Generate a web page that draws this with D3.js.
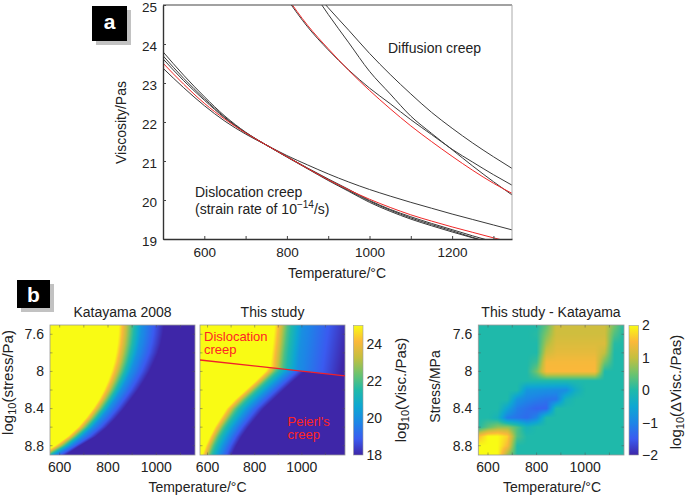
<!DOCTYPE html>
<html>
<head>
<meta charset="utf-8">
<script src="https://cdn.jsdelivr.net/npm/d3@7"></script>
<style>
body { margin: 0; background: #fff; }
svg { display: block; font-family: "Liberation Sans", Arial, Helvetica, sans-serif; }
</style>
</head>
<body>
<svg id="chart" width="685" height="496"></svg>
<script>
// ---------- panel a data: log10 viscosity (Pa s) vs temperature (C) ----------
var diffTemps = [800, 850, 900, 950, 1000, 1050, 1100, 1150, 1200, 1250, 1300, 1345];
var diffRed    = [25.20, 24.48, 23.88, 23.32, 22.81, 22.34, 21.90, 21.50, 21.12, 20.76, 20.43, 20.17];
var diffBlackA = [25.16, 24.44, 23.85, 23.33, 22.87, 22.47, 22.06, 21.68, 21.30, 20.97, 20.65, 20.38];
var diffBlackB = [26.40, 25.55, 24.76, 24.03, 23.30, 22.72, 22.15, 21.71, 21.29, 20.87, 20.47, 20.13];
var diffBlackC = [26.20, 25.55, 24.93, 24.35, 23.76, 23.22, 22.72, 22.25, 21.84, 21.46, 21.11, 20.81];

var disTemps = [500, 550, 600, 650, 700, 750, 800, 850, 900, 950, 1000, 1050, 1100, 1150, 1200, 1250, 1300, 1350];
var disRed    = [23.51, 22.97, 22.48, 22.07, 21.72, 21.41, 21.11, 20.81, 20.52, 20.26, 20.02, 19.81, 19.62, 19.46, 19.31, 19.17, 19.03, 18.90];
var disBlackA = [23.80, 23.20, 22.65, 22.15, 21.74, 21.41, 21.10, 20.80, 20.50, 20.22, 19.94, 19.71, 19.51, 19.34, 19.18, 19.03, 18.88, 18.74];
var disBlackB = [23.70, 23.12, 22.60, 22.12, 21.73, 21.41, 21.11, 20.81, 20.52, 20.24, 19.97, 19.74, 19.54, 19.37, 19.21, 19.04, 18.89, 18.75];
var disBlackC = [23.62, 23.06, 22.56, 22.10, 21.72, 21.41, 21.11, 20.82, 20.54, 20.27, 19.99, 19.76, 19.57, 19.40, 19.24, 19.08, 18.93, 18.79];
var disBlackD = [23.38, 22.88, 22.42, 22.02, 21.69, 21.41, 21.14, 20.90, 20.67, 20.46, 20.27, 20.10, 19.94, 19.79, 19.64, 19.50, 19.36, 19.22];

// ---------- panel b data ----------
// rows of log10(stress); for each row, the temperature where log10(visc) reaches 25, 22, 20, 18
var stressRows = [7.5, 7.6, 7.7, 7.8, 7.9, 8.0, 8.1, 8.2, 8.3, 8.4, 8.5, 8.6, 8.7, 8.8, 8.9];
var viscLevels = [25, 22, 20, 18];

var kataT25 = [845, 843, 839, 833, 825, 814, 800, 783, 763, 738, 709, 676, 634, 581, 520];
var kataT22 = [899, 896, 891, 883, 873, 860, 843, 824, 801, 775, 745, 711, 668, 618, 552];
var kataT20 = [940, 937, 931, 922, 909, 895, 876, 855, 830, 803, 772, 737, 693, 643, 578];
var kataT18 = [1032, 1027, 1019, 1007, 990, 972, 949, 924, 895, 866, 833, 796, 750, 684, 625];

// this study, dislocation creep field (above the red line)
var disT25 = [885, 881, 877, 872, 868, 864, 860, 856, 852, 848, 844, 840, 836, 832, 828];
var disT22 = [940, 936, 932, 927, 923, 919, 915, 911, 907, 903, 899, 895, 891, 887, 883];
var disT20 = [1003, 999, 995, 990, 986, 982, 978, 974, 970, 966, 962, 958, 954, 950, 946];
var disT18 = [1202, 1195, 1188, 1182, 1175, 1168, 1161, 1154, 1147, 1140, 1133, 1126, 1119, 1112, 1105];

// this study, Peierls creep field (below the red line)
var peiT25 = [1000, 960, 925, 895, 868, 845, 805, 762, 718, 680, 655, 630, 610, 592, 578];
var peiT22 = [1054, 1014, 978, 945, 915, 890, 848, 805, 762, 723, 696, 669, 646, 627, 612];
var peiT20 = [1116, 1076, 1038, 1002, 970, 941, 898, 855, 812, 772, 742, 713, 688, 667, 650];
var peiT18 = [1200, 1160, 1120, 1080, 1043, 1010, 965, 922, 880, 838, 805, 773, 745, 722, 703];

// mechanism boundary (red line)
var boundaryT = [568, 1183];
var boundaryS = [7.877, 8.049];

// difference map: rows = stressRows, columns = deltaTemps
var deltaTemps = [560, 600, 640, 680, 720, 760, 800, 840, 880, 920, 960, 1000, 1040, 1080, 1120, 1160];
var deltaGrid = [
  [0, 0, 0, 0, 0, 0, 0, 0.41, 1.1, 1.1, 1.1, 1.1, 1.1, 1.1, 0.55, 0],
  [0, 0, 0, 0, 0, 0, 0.05, 0.61, 1.1, 1.1, 1.1, 1.1, 1.1, 1.1, 0.33, 0],
  [0, 0, 0, 0, 0, 0, 0, 0.84, 1.2, 1.2, 1.2, 1.2, 1.2, 1.2, 0.06, 0],
  [0, 0, 0, 0, 0, 0, 0, 1.1, 1.3, 1.3, 1.3, 1.3, 1.3, 0.98, 0, 0],
  [0, 0, 0, 0, 0, 0, 0.18, 1.45, 1.45, 1.45, 1.45, 1.45, 1.45, 0.53, 0, 0],
  [0, 0, 0, 0, 0, 0, 0.53, 1.5, 1.5, 1.5, 1.5, 1.5, 1.5, 0, 0, 0],
  [0, 0, 0, 0, 0, 0, 0, 0, 0, 0, 0, 0, 0, 0, 0, 0],
  [0, 0, 0, 0, 0, -0.76, -0.8, -0.85, -0.9, -0.9, -0.32, 0, 0, 0, 0, 0],
  [0, 0, 0, 0, -0.8, -1.0, -1.1, -1.2, -1.2, -0.21, 0, 0, 0, 0, 0, 0],
  [0, 0, 0, -0.55, -1.1, -1.25, -1.4, -1.4, 0, 0, 0, 0, 0, 0, 0, 0],
  [0, 0, -0.19, -1.1, -1.2, -1.3, -1.0, 0, 0, 0, 0, 0, 0, 0, 0, 0],
  [0, 0.4, 0.7, 0.7, 0.3, -0.2, 0, 0, 0, 0, 0, 0, 0, 0, 0, 0],
  [1.5, 2, 2, 1.7, 0.3, 0, 0, 0, 0, 0, 0, 0, 0, 0, 0, 0],
  [2, 2, 2, 1.5, 0, 0, 0, 0, 0, 0, 0, 0, 0, 0, 0, 0],
  [2, 2, 2, 0.75, 0, 0, 0, 0, 0, 0, 0, 0, 0, 0, 0, 0]
];

// parula-like colour stops
var parula = ['#3e26a8', '#3a5bf0', '#1d86e6', '#0ea7d2', '#1fb9aa', '#6cc36e', '#c4bf3f', '#fbb83a', '#f9fb14'];

var svg = d3.select('#chart');
var ink = '#222';

function stopsFor(lo, hi) {
    return parula.map((c, i) => lo + i * (hi - lo) / (parula.length - 1));
}
var viscColor = d3.scaleLinear().domain(stopsFor(18, 25)).range(parula).clamp(true);
var deltaColor = d3.scaleLinear().domain(stopsFor(-2, 2)).range(parula).clamp(true);

// panel letter boxes with drop shadow
function panelLabel(x, y, w, h, letter, baseline) {
    svg.append('rect').attr('x', x + 4).attr('y', y + 4).attr('width', w).attr('height', h).attr('fill', '#c2c2c2');
    svg.append('rect').attr('x', x).attr('y', y).attr('width', w).attr('height', h).attr('fill', '#000');
    svg.append('text').attr('x', x + w / 2).attr('y', baseline)
        .attr('text-anchor', 'middle').attr('fill', '#fff')
        .attr('font-weight', 'bold').attr('font-size', 21).text(letter);
}
panelLabel(92, 6, 35, 35, 'a', 29);
panelLabel(17, 280, 33, 28, 'b', 302);

// ================= panel a =================
var xA = d3.scaleLinear().domain([500, 1345]).range([163, 512]);
var yA = d3.scaleLinear().domain([19, 25]).range([239, 5]);

svg.append('clipPath').attr('id', 'clipA')
    .append('rect').attr('x', 163).attr('y', 5).attr('width', 349).attr('height', 234);

var lineA = d3.line()
    .x(d => xA(d[0]))
    .y(d => yA(d[1]))
    .curve(d3.curveMonotoneX);

var curvesA = [
    { t: disTemps, v: disBlackA, c: '#3a3a3a' },
    { t: disTemps, v: disBlackB, c: '#3a3a3a' },
    { t: disTemps, v: disBlackC, c: '#3a3a3a' },
    { t: disTemps, v: disBlackD, c: '#3a3a3a' },
    { t: disTemps, v: disRed, c: '#f02828' },
    { t: diffTemps, v: diffBlackA, c: '#3a3a3a' },
    { t: diffTemps, v: diffBlackB, c: '#3a3a3a' },
    { t: diffTemps, v: diffBlackC, c: '#3a3a3a' },
    { t: diffTemps, v: diffRed, c: '#f02828' }
];

var curveG = svg.append('g').attr('clip-path', 'url(#clipA)');
curveG.selectAll('path')
    .data(curvesA)
    .enter()
    .append('path')
    .attr('d', d => lineA(d.t.map((t, i) => [t, d.v[i]])))
    .attr('fill', 'none')
    .attr('stroke', d => d.c)
    .attr('stroke-width', 1);

// frame: top dark, right light
svg.append('line').attr('x1', 163).attr('x2', 512).attr('y1', 5).attr('y2', 5).attr('stroke', '#444').attr('stroke-width', 1.2);
svg.append('line').attr('x1', 512).attr('x2', 512).attr('y1', 5).attr('y2', 239).attr('stroke', '#aaa').attr('stroke-width', 1);

function styleAxis(g, size) {
    g.attr('font-family', null).attr('font-size', size).attr('color', ink);
    g.select('.domain').attr('stroke', '#333').attr('stroke-width', 1.4);
    g.selectAll('.tick line').attr('stroke', '#444');
}

var yAxisA = d3.axisLeft(yA).ticks(6).tickSizeInner(-3).tickSizeOuter(0).tickPadding(6);
svg.append('g').attr('transform', 'translate(163,0)').call(yAxisA).call(g => styleAxis(g, 13.5))
    .selectAll('.tick text').attr('dy', '0.45em');

var xAxisA = d3.axisBottom(xA)
    .tickValues(d3.range(600, 1301, 100))
    .tickSizeInner(-3).tickSizeOuter(0).tickPadding(8)
    .tickFormat(d => d % 200 === 0 ? d : '');
svg.append('g').attr('transform', 'translate(0,239)').call(xAxisA).call(g => styleAxis(g, 13.5));

svg.append('text')
    .attr('transform', 'translate(126,122.5) rotate(-90)')
    .attr('text-anchor', 'middle').attr('font-size', 14).attr('fill', ink)
    .text('Viscosity/Pas');
svg.append('text')
    .attr('x', 337).attr('y', 278)
    .attr('text-anchor', 'middle').attr('font-size', 14).attr('fill', ink)
    .text('Temperature/°C');
svg.append('text')
    .attr('x', 388).attr('y', 53).attr('font-size', 14).attr('fill', ink)
    .text('Diffusion creep');
svg.append('text')
    .attr('x', 195).attr('y', 196.5).attr('font-size', 14).attr('fill', ink)
    .text('Dislocation creep');
var strain = svg.append('text')
    .attr('x', 195).attr('y', 213.5).attr('font-size', 14).attr('fill', ink);
strain.append('tspan').text('(strain rate of 10');
strain.append('tspan').attr('font-size', 10).attr('dy', -5.5).text('−14');
strain.append('tspan').attr('dy', 5.5).text('/s)');

// ================= panel b =================
var yB = d3.scaleLinear().domain([7.5, 8.9]).range([325, 455]);
var xB1 = d3.scaleLinear().domain([560, 1160]).range([50, 195]);
var xB2 = d3.scaleLinear().domain([568, 1183]).range([200, 345]);
var xB3 = d3.scaleLinear().domain([560, 1160]).range([478.3, 624]);

// value at (T, s) from per-row contour temperatures
function contourField(tables) {
    return function(T, s) {
        var n = stressRows.length;
        var k = Math.max(0, Math.min(n - 2, d3.bisectRight(stressRows, s) - 1));
        var f = Math.max(0, Math.min(1, (s - stressRows[k]) / (stressRows[k + 1] - stressRows[k])));
        var temps = tables.map(arr => arr[k] * (1 - f) + arr[k + 1] * f);
        if (T <= temps[0]) return viscLevels[0];
        for (var i = 1; i < temps.length; i++) {
            if (T <= temps[i]) {
                return viscLevels[i - 1] + (viscLevels[i] - viscLevels[i - 1]) * (T - temps[i - 1]) / (temps[i] - temps[i - 1]);
            }
        }
        return viscLevels[viscLevels.length - 1];
    };
}

var kataField = contourField([kataT25, kataT22, kataT20, kataT18]);
var disField = contourField([disT25, disT22, disT20, disT18]);
var peiField = contourField([peiT25, peiT22, peiT20, peiT18]);
var boundary = d3.scaleLinear().domain(boundaryT).range(boundaryS);

function studyField(T, s) {
    return s < boundary(T) ? disField(T, s) : peiField(T, s);
}

// bilinear lookup in the difference grid
function deltaField(T, s) {
    var nx = deltaTemps.length, ny = stressRows.length;
    var i = Math.max(0, Math.min(nx - 2, d3.bisectRight(deltaTemps, T) - 1));
    var j = Math.max(0, Math.min(ny - 2, d3.bisectRight(stressRows, s) - 1));
    var fx = Math.max(0, Math.min(1, (T - deltaTemps[i]) / (deltaTemps[i + 1] - deltaTemps[i])));
    var fy = Math.max(0, Math.min(1, (s - stressRows[j]) / (stressRows[j + 1] - stressRows[j])));
    var a = deltaGrid[j][i], b = deltaGrid[j][i + 1], c = deltaGrid[j + 1][i], d = deltaGrid[j + 1][i + 1];
    return (a * (1 - fx) + b * fx) * (1 - fy) + (c * (1 - fx) + d * fx) * fy;
}

function drawHeatmap(xs, field, color) {
    var x0 = xs.range()[0], x1 = xs.range()[1];
    var y0 = yB.range()[0], y1 = yB.range()[1];
    var up = 2;
    var w = Math.round((x1 - x0) * up), h = Math.round((y1 - y0) * up);
    var canvas = document.createElement('canvas');
    canvas.width = w; canvas.height = h;
    var ctx = canvas.getContext('2d');
    var img = ctx.createImageData(w, h);
    for (var j = 0; j < h; j++) {
        var s = yB.invert(y0 + (j + 0.5) / up);
        for (var i = 0; i < w; i++) {
            var T = xs.invert(x0 + (i + 0.5) / up);
            var c = d3.rgb(color(field(T, s)));
            var p = (j * w + i) * 4;
            img.data[p] = c.r; img.data[p + 1] = c.g; img.data[p + 2] = c.b; img.data[p + 3] = 255;
        }
    }
    ctx.putImageData(img, 0, 0);
    svg.append('image')
        .attr('x', x0).attr('y', y0)
        .attr('width', x1 - x0).attr('height', y1 - y0)
        .attr('preserveAspectRatio', 'none')
        .attr('href', canvas.toDataURL());
}

function heatFrame(xs, withLabels) {
    var x0 = xs.range()[0], x1 = xs.range()[1];
    var y0 = yB.range()[0], y1 = yB.range()[1];
    var g = svg.append('g');
    g.append('rect').attr('x', x0).attr('y', y0).attr('width', x1 - x0).attr('height', y1 - y0)
        .attr('fill', 'none').attr('stroke', '#9a9a9a').attr('stroke-width', 0.8);
    var xt = d3.range(600, 1101, 100);
    var yt = [7.6, 7.8, 8.0, 8.2, 8.4, 8.6, 8.8];
    g.selectAll('.xt').data(xt).enter().append('path')
        .attr('d', d => `M${xs(d)},${y1}v-2.5M${xs(d)},${y0}v2.5`)
        .attr('stroke', '#555').attr('stroke-width', 0.8).attr('opacity', 0.6);
    g.selectAll('.yt').data(yt).enter().append('path')
        .attr('d', d => `M${x0},${yB(d)}h2.5M${x1},${yB(d)}h-2.5`)
        .attr('stroke', '#555').attr('stroke-width', 0.8).attr('opacity', 0.6);
    g.selectAll('.xl').data([600, 800, 1000]).enter().append('text')
        .attr('x', d => xs(d)).attr('y', 471.5)
        .attr('text-anchor', 'middle').attr('font-size', 14).attr('fill', ink)
        .text(d => d);
    if (withLabels) {
        g.selectAll('.yl').data([7.6, 8, 8.4, 8.8]).enter().append('text')
            .attr('x', x0 - 6).attr('y', d => yB(d)).attr('dy', '0.35em')
            .attr('text-anchor', 'end').attr('font-size', 14).attr('fill', ink)
            .text(d => d);
    }
}

drawHeatmap(xB1, kataField, viscColor);
drawHeatmap(xB2, studyField, viscColor);
drawHeatmap(xB3, deltaField, deltaColor);
heatFrame(xB1, true);
heatFrame(xB2, false);
heatFrame(xB3, true);

// mechanism boundary and labels
svg.append('line')
    .attr('x1', xB2(boundaryT[0])).attr('y1', yB(boundaryS[0]))
    .attr('x2', xB2(boundaryT[1])).attr('y2', yB(boundaryS[1]))
    .attr('stroke', '#f0202a').attr('stroke-width', 1.3);
var red = '#ff2424';
svg.append('text').attr('x', 204).attr('y', 341).attr('font-size', 13).attr('fill', red).text('Dislocation');
svg.append('text').attr('x', 204).attr('y', 354).attr('font-size', 13).attr('fill', red).text('creep');
svg.append('text').attr('x', 287.5).attr('y', 426).attr('font-size', 13).attr('fill', red).text("Peierl's");
svg.append('text').attr('x', 287.5).attr('y', 439).attr('font-size', 13).attr('fill', red).text('creep');

// titles
[['Katayama 2008', 122.5], ['This study', 272.5], ['This study - Katayama', 551]].forEach(function(t) {
    svg.append('text').attr('x', t[1]).attr('y', 316.5)
        .attr('text-anchor', 'middle').attr('font-size', 14).attr('fill', ink).text(t[0]);
});

svg.append('text').attr('x', 197.5).attr('y', 492)
    .attr('text-anchor', 'middle').attr('font-size', 14).attr('fill', ink).text('Temperature/°C');
svg.append('text').attr('x', 552).attr('y', 492)
    .attr('text-anchor', 'middle').attr('font-size', 14).attr('fill', ink).text('Temperature/°C');

function logLabel(x, y, rest) {
    var t = svg.append('text')
        .attr('transform', `translate(${x},${y}) rotate(-90)`)
        .attr('text-anchor', 'middle').attr('font-size', 15).attr('fill', ink);
    t.append('tspan').text('log');
    t.append('tspan').attr('font-size', 11).attr('dy', 3).text('10');
    t.append('tspan').attr('dy', -3).text(rest);
}
logLabel(13, 382.5, '(stress/Pa)');
logLabel(406, 390, '(Visc./Pas)');
logLabel(681, 392, '(ΔVisc./Pas)');
svg.append('text')
    .attr('transform', 'translate(440,386.5) rotate(-90)')
    .attr('text-anchor', 'middle').attr('font-size', 14).attr('fill', ink).text('Stress/MPa');

// colorbars
function colorbar(id, x, lo, hi, ticks, fmt) {
    var cy = d3.scaleLinear().domain([lo, hi]).range([455, 325.5]);
    var grad = svg.append('defs').append('linearGradient').attr('id', id)
        .attr('x1', 0).attr('y1', 1).attr('x2', 0).attr('y2', 0);
    grad.selectAll('stop').data(parula).enter().append('stop')
        .attr('offset', (d, i) => i / (parula.length - 1))
        .attr('stop-color', d => d);
    svg.append('rect').attr('x', x).attr('y', 325.5).attr('width', 9.5).attr('height', 129.5)
        .attr('fill', `url(#${id})`).attr('stroke', '#9a9a9a').attr('stroke-width', 0.6);
    svg.selectAll('.cb' + id).data(ticks).enter().append('text')
        .attr('x', x + 13).attr('y', d => cy(d)).attr('dy', '0.35em')
        .attr('font-size', 14).attr('fill', ink)
        .text(fmt);
}
colorbar('cbVisc', 353.5, 18, 25, [18, 20, 22, 24], d => d);
colorbar('cbDelta', 629, -2, 2, [-2, -1, 0, 1, 2], d => d < 0 ? '−' + Math.abs(d) : d);
</script>
</body>
</html>
